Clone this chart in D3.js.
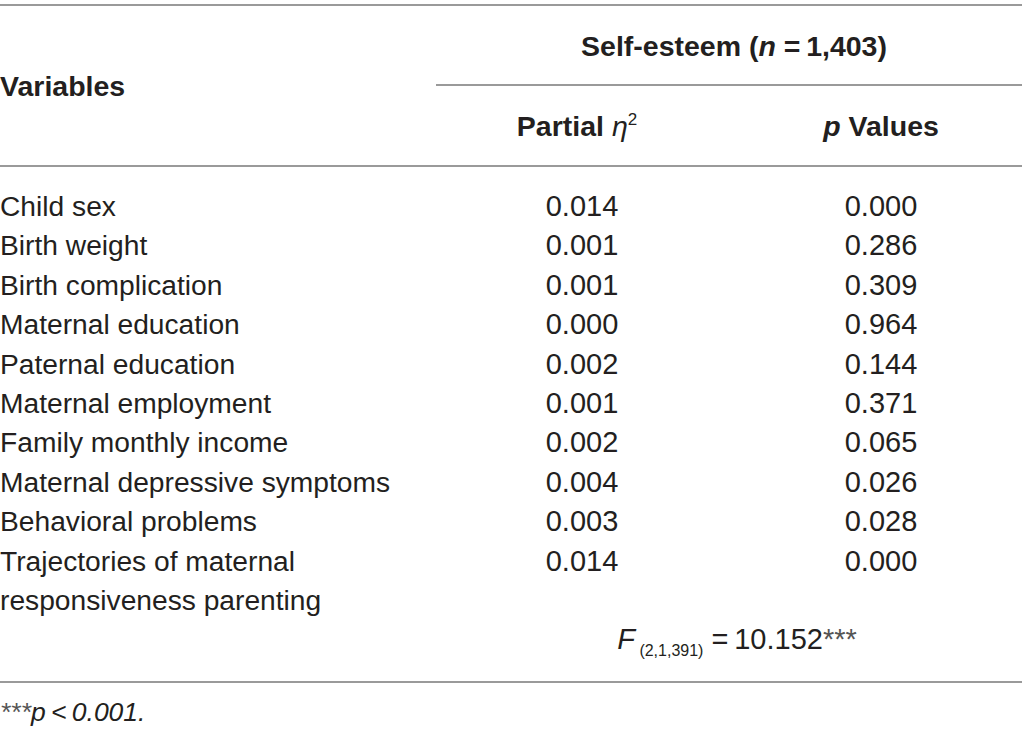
<!DOCTYPE html>
<html>
<head>
<meta charset="utf-8">
<script src="https://cdn.jsdelivr.net/npm/d3@7"></script>
<style>
  body { margin: 0; background: #fff; }
  text { font-family: "Liberation Sans", Arial, sans-serif; fill: #231f20; }
  .head { font-weight: bold; }
  .rule { stroke: #9a9a9a; stroke-width: 2; }
</style>
</head>
<body>
<div id="chart"></div>
<script>
const WIDTH = 1022, HEIGHT = 739;

// table data
const variables = [
  ["Child sex"],
  ["Birth weight"],
  ["Birth complication"],
  ["Maternal education"],
  ["Paternal education"],
  ["Maternal employment"],
  ["Family monthly income"],
  ["Maternal depressive symptoms"],
  ["Behavioral problems"],
  ["Trajectories of maternal", "responsiveness parenting"]
];
const partialEta = ["0.014", "0.001", "0.001", "0.000", "0.002", "0.001", "0.002", "0.004", "0.003", "0.014"];
const pValues    = ["0.000", "0.286", "0.309", "0.964", "0.144", "0.371", "0.065", "0.026", "0.028", "0.000"];
const columns = ["eta", "p"];

const svg = d3.select("#chart").append("svg")
  .attr("width", WIDTH).attr("height", HEIGHT);

// row baselines
const y = d3.scaleLinear().domain([0, 1]).range([216, 255.4]);
const x = d3.scaleOrdinal().domain(columns).range([582, 881]);

// rules
const rule = (x1, x2, yy) => svg.append("line").attr("class", "rule")
  .attr("x1", x1).attr("x2", x2).attr("y1", yy).attr("y2", yy);
rule(0, WIDTH, 5);
rule(436, WIDTH, 85);
rule(0, WIDTH, 166);
rule(0, WIDTH, 682);

// header
svg.append("text").attr("class", "head")
  .attr("x", 0).attr("y", 96).attr("font-size", 28.5)
  .text("Variables");

const se = svg.append("text").attr("class", "head")
  .attr("x", 734).attr("y", 56).attr("font-size", 28.5)
  .attr("text-anchor", "middle");
se.append("tspan").text("Self-esteem (");
se.append("tspan").attr("font-style", "italic").text("n");
se.append("tspan").text(" =\u20091,403)");

const h1 = svg.append("text").attr("class", "head")
  .attr("x", 577).attr("y", 136).attr("font-size", 28.5)
  .attr("text-anchor", "middle");
h1.append("tspan").text("Partial ");
h1.append("tspan").attr("font-style", "italic").attr("font-weight", "normal").text("\u03b7");
h1.append("tspan").attr("font-size", 17).attr("dy", -11).attr("font-weight", "normal").text("2");

const h2 = svg.append("text").attr("class", "head")
  .attr("x", x("p")).attr("y", 136).attr("font-size", 28.5)
  .attr("text-anchor", "middle");
h2.append("tspan").attr("font-style", "italic").text("p");
h2.append("tspan").text(" Values");

// body rows
const rows = svg.append("g").selectAll("g").data(variables).join("g");

rows.each(function(lines, i) {
  const g = d3.select(this);
  lines.forEach((ln, j) => {
    g.append("text").attr("x", 0).attr("y", y(i + j)).attr("font-size", 28.2).text(ln);
  });
  g.append("text").attr("x", x("eta")).attr("y", y(i)).attr("font-size", 29)
    .attr("text-anchor", "middle").text(partialEta[i]);
  g.append("text").attr("x", x("p")).attr("y", y(i)).attr("font-size", 29)
    .attr("text-anchor", "middle").text(pValues[i]);
});

// F statistic
const f = svg.append("text").attr("x", 737).attr("y", 649).attr("font-size", 29)
  .attr("text-anchor", "middle");
f.append("tspan").attr("font-style", "italic").text("F");
f.append("tspan").attr("font-size", 16).attr("dy", 7).text(" (2,1,391)");
f.append("tspan").attr("dy", -7).text(" =\u200910.152");
f.append("tspan").attr("fill", "#555").text("***");

// footnote
const fn = svg.append("text").attr("x", 0).attr("y", 721).attr("font-size", 26.5)
  .attr("font-style", "italic");
fn.append("tspan").attr("fill", "#555").text("***");
fn.append("tspan").text("p\u2009<\u20090.001.");
</script>
</body>
</html>
